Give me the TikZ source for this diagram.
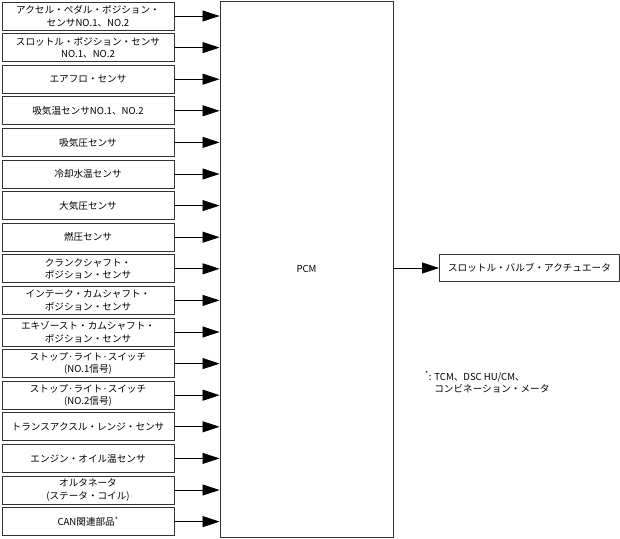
\documentclass[tikz,border=0pt]{standalone}
\usepackage{fontspec}
\setmainfont{Noto Sans CJK JP}
\usetikzlibrary{arrows.meta,positioning}
\tikzset{
  sig/.style={draw=black!80, line width=0.9pt, align=center, font=\fontsize{9.6}{12.5}\selectfont, minimum width=172pt, minimum height=28pt, inner sep=1pt, fill=white},
  ecu/.style={draw=black!80, line width=0.9pt, font=\fontsize{9.6}{12.5}\selectfont, minimum width=173pt, minimum height=536pt, inner sep=0pt},
  act/.style={sig, minimum width=180pt, minimum height=27pt},
  arr/.style={-{Triangle[length=17pt,width=11pt]}, line width=0.8pt},
  note/.style={font=\fontsize{9.6}{12}\selectfont, align=left, inner sep=0pt}}

\begin{document}
\begin{tikzpicture}[x=1pt, y=-1pt, node distance=2.7pt]
  \useasboundingbox (0,0) rectangle (620,538);
  % inputs
  \node[sig] (accel) at (88,16) {アクセル・ペダル・ポジション・\\センサNO.1、NO.2};
  \node[sig, below=of accel] (tps) {スロットル・ポジション・センサ\\NO.1、NO.2};
  \node[sig, below=of tps] (maf) {エアフロ・センサ};
  \node[sig, below=of maf] (iat) {吸気温センサNO.1、NO.2};
  \node[sig, below=of iat] (map) {吸気圧センサ};
  \node[sig, below=of map] (ect) {冷却水温センサ};
  \node[sig, below=of ect] (baro) {大気圧センサ};
  \node[sig, below=of baro] (fuel) {燃圧センサ};
  \node[sig, below=of fuel] (ckp) {クランクシャフト・\\ポジション・センサ};
  \node[sig, below=of ckp] (cmpin) {インテーク・カムシャフト・\\ポジション・センサ};
  \node[sig, below=of cmpin] (cmpex) {エキゾースト・カムシャフト・\\ポジション・センサ};
  \node[sig, below=of cmpex] (bsw1) {ストップ·ライト·スイッチ\\(NO.1信号)};
  \node[sig, below=of bsw1] (bsw2) {ストップ·ライト·スイッチ\\(NO.2信号)};
  \node[sig, below=of bsw2] (trs) {トランスアクスル・レンジ・センサ};
  \node[sig, below=of trs] (eot) {エンジン・オイル温センサ};
  \node[sig, below=of eot] (alt) {オルタネータ\\(ステータ・コイル)};
  \node[sig, below=of alt] (can) {CAN関連部品\textsuperscript{*}};
  % ecu and output
  \node[ecu] (pcm) at (306.5,269) {PCM};
  \node[act] (tva) at (529.5,268) {スロットル・バルブ・アクチュエータ};
  \foreach \s in {accel,tps,maf,iat,map,ect,baro,fuel,ckp,cmpin,cmpex,bsw1,bsw2,trs,eot,alt,can}
    \draw[arr] (\s.east) -- (\s.east -| pcm.west);
  \draw[arr] (pcm.east |- tva.west) -- (tva.west);
  \node[note, anchor=north west] (foot) at (425,371) {\textsuperscript{*}: TCM、DSC HU/CM、\\\hphantom{\textsuperscript{*}: }コンビネーション・メータ};
\end{tikzpicture}
\end{document}
